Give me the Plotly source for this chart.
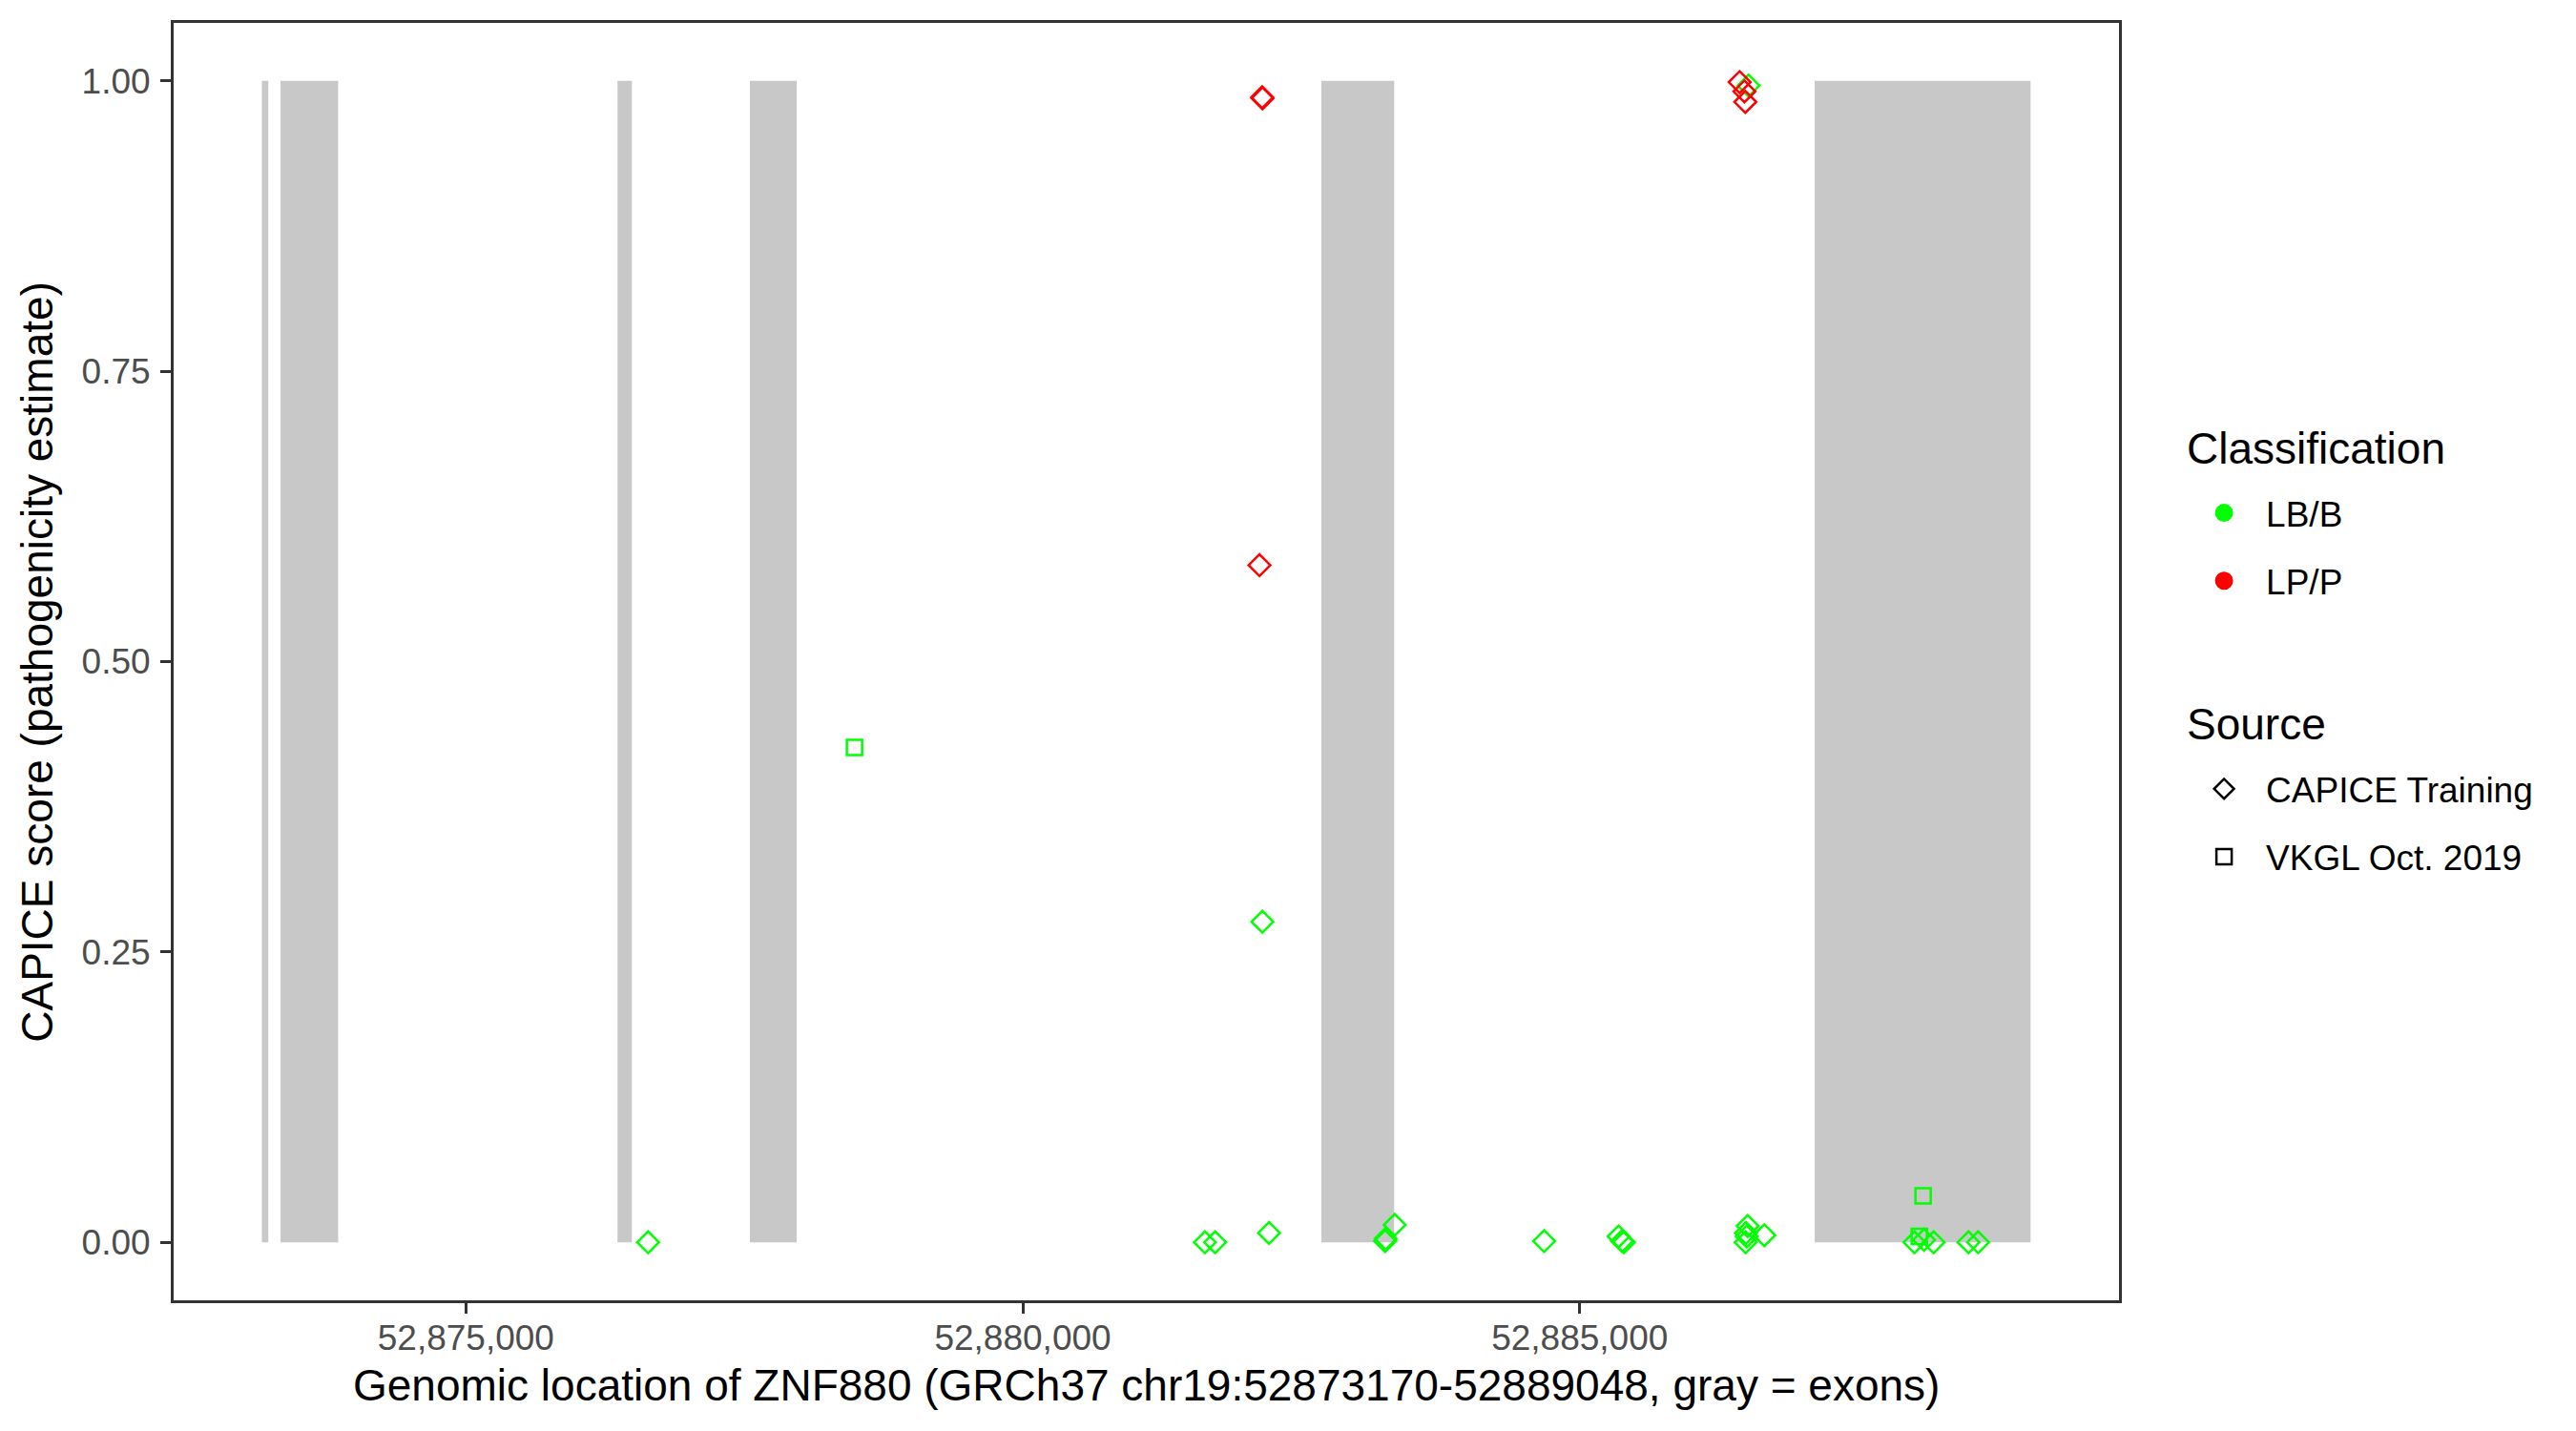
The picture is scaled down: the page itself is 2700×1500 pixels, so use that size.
import plotly.graph_objects as go

# ---------------- data ----------------
gene_start = 52873170
gene_end = 52889048

exon_starts = [52873168, 52873336, 52876361, 52877550, 52882680, 52887110]
exon_ends = [52873226, 52873853, 52876490, 52877970, 52883334, 52889048]

positions = [
    52876636, 52878489, 52881635, 52881727, 52882125, 52882149, 52882152,
    52882151, 52882211, 52883253, 52883258, 52883339, 52884681, 52885349,
    52885380, 52885397, 52886508, 52886493, 52886500, 52886490, 52886658,
    52886436, 52886479, 52886487, 52886516, 52888083, 52888049, 52888006,
    52888092, 52888178, 52888491, 52888577,
]
scores = [
    0.000, 0.426, 0.000, 0.000, 0.583, 0.986, 0.985,
    0.276, 0.008, 0.001, 0.003, 0.015, 0.001, 0.005,
    0.001, 0.000, 0.014, 0.008, 0.005, 0.000, 0.006,
    0.999, 0.991, 0.982, 0.996, 0.040, 0.005, 0.000,
    0.002, 0.000, 0.000, 0.000,
]
classification = [
    "LB/B", "LB/B", "LB/B", "LB/B", "LP/P", "LP/P", "LP/P",
    "LB/B", "LB/B", "LB/B", "LB/B", "LB/B", "LB/B", "LB/B",
    "LB/B", "LB/B", "LB/B", "LB/B", "LB/B", "LB/B", "LB/B",
    "LP/P", "LP/P", "LP/P", "LB/B", "LB/B", "LB/B", "LB/B",
    "LB/B", "LB/B", "LB/B", "LB/B",
]
source = [
    "CAPICE Training", "VKGL Oct. 2019", "CAPICE Training", "CAPICE Training",
    "CAPICE Training", "CAPICE Training", "CAPICE Training", "CAPICE Training",
    "CAPICE Training", "CAPICE Training", "CAPICE Training", "CAPICE Training",
    "CAPICE Training", "CAPICE Training", "CAPICE Training", "CAPICE Training",
    "CAPICE Training", "CAPICE Training", "CAPICE Training", "CAPICE Training",
    "CAPICE Training", "CAPICE Training", "CAPICE Training", "CAPICE Training",
    "CAPICE Training", "VKGL Oct. 2019", "VKGL Oct. 2019", "CAPICE Training",
    "CAPICE Training", "CAPICE Training", "CAPICE Training", "CAPICE Training",
]

class_levels = ["LB/B", "LP/P"]
source_levels = ["CAPICE Training", "VKGL Oct. 2019"]
x_ticks = [52875000, 52880000, 52885000]
y_ticks = [0.0, 0.25, 0.5, 0.75, 1.0]

x_title = "Genomic location of ZNF880 (GRCh37 chr19:52873170-52889048, gray = exons)"
y_title = "CAPICE score (pathogenicity estimate)"
class_title = "Classification"
source_title = "Source"

# ---------------- styles ----------------
class_colors = {"LB/B": "#00FF00", "LP/P": "#FF0000"}
source_symbols = {"CAPICE Training": "diamond-open", "VKGL Oct. 2019": "square-open"}
source_sizes = {"CAPICE Training": 17.5, "VKGL Oct. 2019": 16}
FONT = "Liberation Sans, Arial, sans-serif"
TITLE_SIZE = 46
TEXT_SIZE = 37

fig = go.Figure()

# exons as gray rectangles in data coordinates
for s, e in zip(exon_starts, exon_ends):
    fig.add_shape(type="rect", xref="x", yref="y", x0=s, x1=e, y0=0, y1=1,
                  fillcolor="#C8C8C8", line=dict(width=0), layer="below")

# data points, one trace per classification/source combination
for src in source_levels:
    for cls in class_levels:
        xs = [p for p, c, so in zip(positions, classification, source) if c == cls and so == src]
        ys = [v for v, c, so in zip(scores, classification, source) if c == cls and so == src]
        if not xs:
            continue
        fig.add_trace(go.Scatter(
            x=xs, y=ys, mode="markers", showlegend=False,
            marker=dict(symbol=source_symbols[src], size=source_sizes[src],
                        color=class_colors[cls],
                        line=dict(width=2.5, color=class_colors[cls])),
        ))

# legend entries
for i, cls in enumerate(class_levels):
    fig.add_trace(go.Scatter(
        x=[None], y=[None], mode="markers", name=cls, legend="legend",
        legendgroup="c" + str(i),
        marker=dict(symbol="circle", size=16, color=class_colors[cls],
                    line=dict(width=3, color=class_colors[cls])),
    ))
for i, src in enumerate(source_levels):
    fig.add_trace(go.Scatter(
        x=[None], y=[None], mode="markers", name=src, legend="legend2",
        legendgroup="s" + str(i),
        marker=dict(symbol=source_symbols[src], size=16, color="black",
                    line=dict(width=2.5, color="black")),
    ))

PW = 2039.0   # plot width in px
PH = 1338.7   # plot height in px
LEG_X = 1.0285 + 8 / PW
TITLE_X = (2290 - 182) / PW
span = gene_end - gene_start
fig.update_layout(
    width=2700, height=1500,
    margin=dict(l=174, r=487, t=16, b=145),
    paper_bgcolor="white", plot_bgcolor="white",
    font=dict(family=FONT, color="black"),
    legend=dict(
        font=dict(size=TEXT_SIZE, color="black"),
        x=LEG_X, xanchor="left", y=0.637 + 3 / PH, yanchor="top",
        itemwidth=78, tracegroupgap=20, bgcolor="rgba(0,0,0,0)",
    ),
    legend2=dict(
        font=dict(size=TEXT_SIZE, color="black"),
        x=LEG_X, xanchor="left", y=0.421 + 3 / PH, yanchor="top",
        itemwidth=78, tracegroupgap=20, bgcolor="rgba(0,0,0,0)",
    ),
    xaxis=dict(
        range=[gene_start - 0.05 * span, gene_end + 0.05 * span],
        tickvals=x_ticks, tickformat=",d", automargin=False,
        showgrid=False, zeroline=False,
        showline=True, mirror=True, linecolor="#333333", linewidth=3,
        ticks="outside", ticklen=11, tickwidth=3, tickcolor="#333333",
        tickfont=dict(size=TEXT_SIZE, color="#4D4D4D"), ticklabelstandoff=-6,
    ),
    yaxis=dict(
        range=[-0.05, 1.05],
        tickvals=y_ticks, tickformat=".2f", automargin=False,
        showgrid=False, zeroline=False,
        showline=True, mirror=True, linecolor="#333333", linewidth=3,
        ticks="outside", ticklen=11, tickwidth=3, tickcolor="#333333",
        tickfont=dict(size=TEXT_SIZE, color="#4D4D4D"), ticklabelstandoff=3,
    ),
    annotations=[
        dict(text=x_title, xref="paper", yref="paper", x=0.5, y=-0.0667,
             xanchor="center", yanchor="middle", showarrow=False,
             font=dict(size=TITLE_SIZE, color="black")),
        dict(text=y_title, xref="paper", yref="paper", x=-0.0705, y=0.5,
             xanchor="center", yanchor="middle", showarrow=False, textangle=-90,
             font=dict(size=TITLE_SIZE, color="black")),
        dict(text=class_title, xref="paper", yref="paper", x=TITLE_X,
             y=(1362.7 - 470) / PH, xanchor="left", yanchor="middle", showarrow=False,
             font=dict(size=TITLE_SIZE, color="black")),
        dict(text=source_title, xref="paper", yref="paper", x=TITLE_X,
             y=(1362.7 - 759) / PH, xanchor="left", yanchor="middle", showarrow=False,
             font=dict(size=TITLE_SIZE, color="black")),
    ],
)

fig.write_html("out.html")
